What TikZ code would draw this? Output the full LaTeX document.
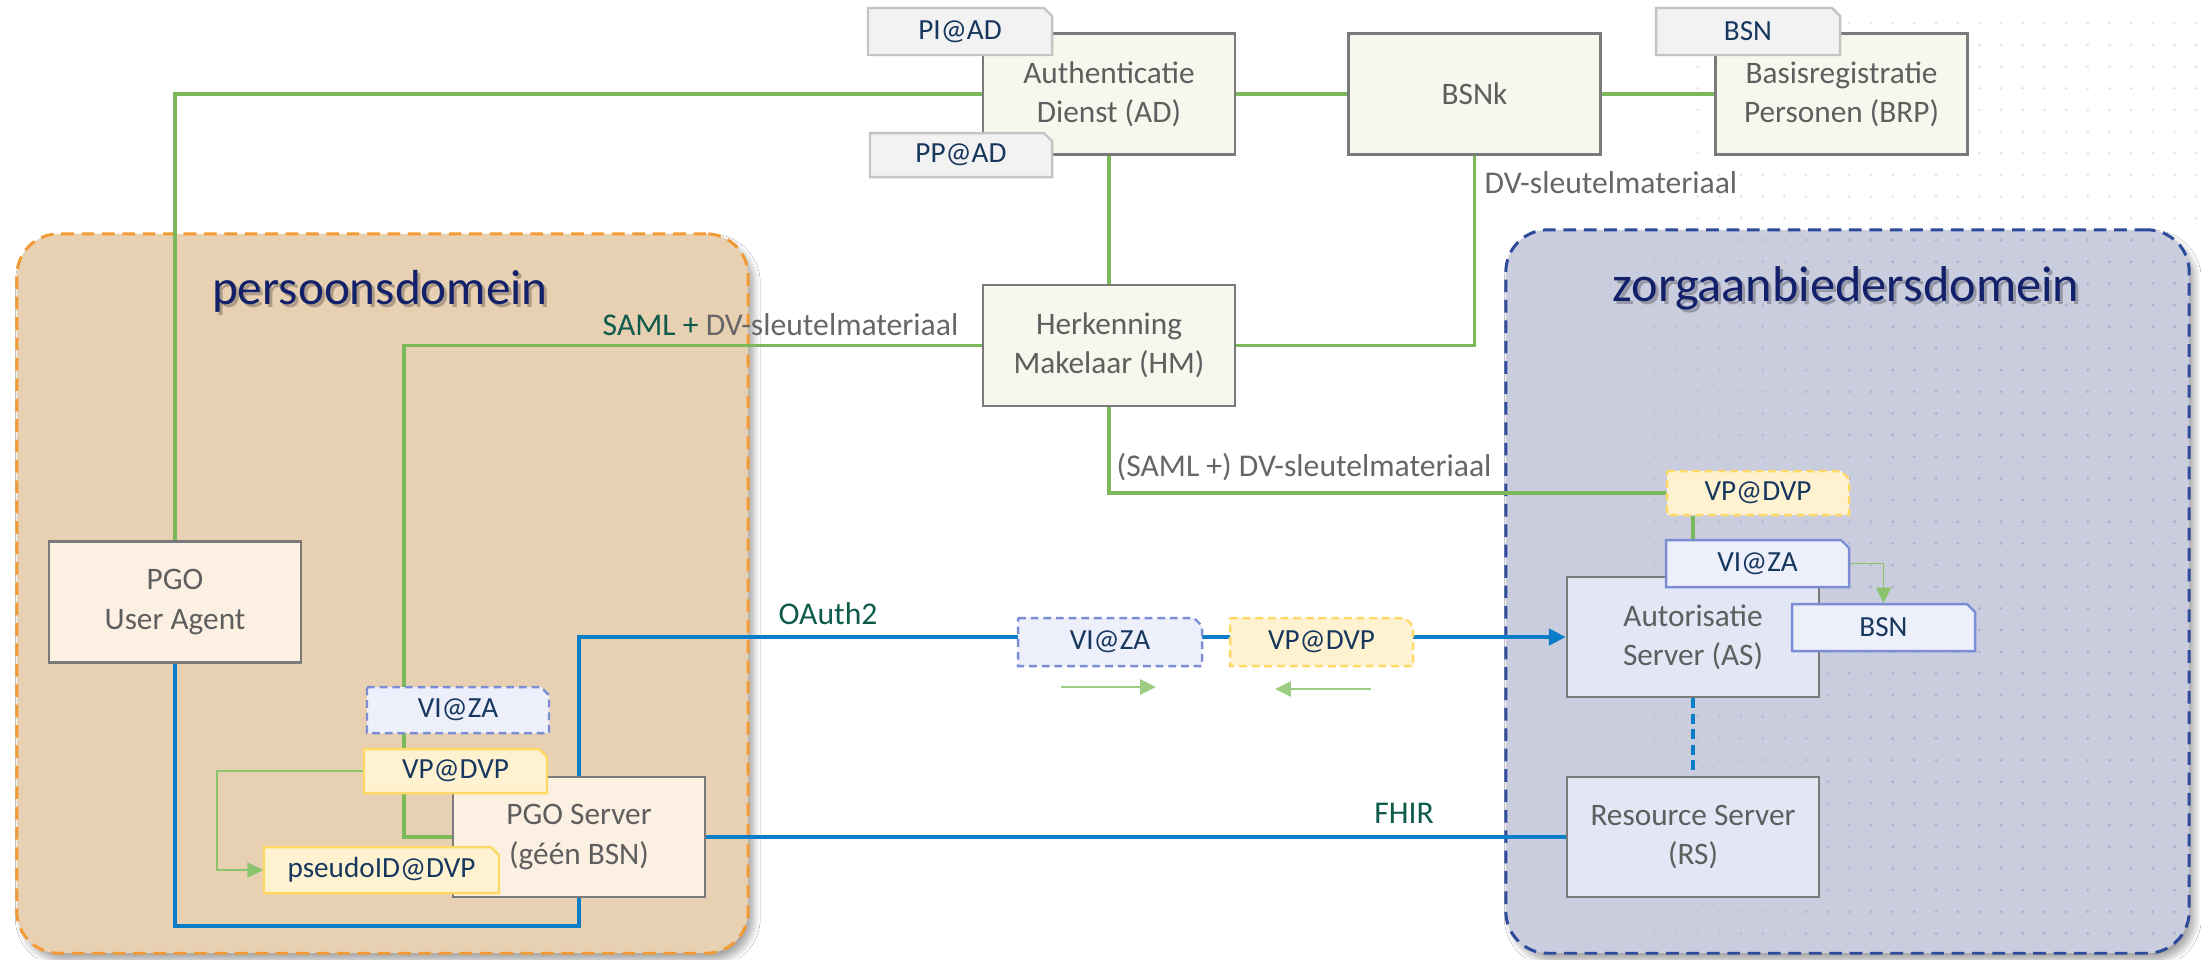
\documentclass[tikz,border=0pt]{standalone}
\usepackage{fontspec}
\setmainfont{Carlito}
\usetikzlibrary{arrows.meta,shadows.blur,calc}

\definecolor{persfill}{HTML}{E8D0B3}
\definecolor{persline}{HTML}{F29A33}
\definecolor{zorgfill}{HTML}{C9CDDD}
\definecolor{zorgline}{HTML}{2E4A9B}
\definecolor{navytitle}{HTML}{13216B}
\definecolor{creamfill}{HTML}{F7F7EE}
\definecolor{peachfill}{HTML}{FCF0E2}
\definecolor{lavfill}{HTML}{E3E6F4}
\definecolor{boxline}{HTML}{7A7A7A}
\definecolor{boxtext}{HTML}{5E5E5E}
\definecolor{tagtext}{HTML}{17375E}
\definecolor{greytagfill}{HTML}{F2F2F2}
\definecolor{greytagline}{HTML}{C4C4C4}
\definecolor{yeltagfill}{HTML}{FFF2D0}
\definecolor{yeltagline}{HTML}{FFD966}
\definecolor{bluetagfill}{HTML}{EDF0FA}
\definecolor{bluetagline}{HTML}{7B8ED5}
\definecolor{gline}{HTML}{7AB85A}
\definecolor{gthinline}{HTML}{8CC46E}
\definecolor{gsoft}{HTML}{9CCD82}
\definecolor{bline}{HTML}{0A7DC8}
\definecolor{lblgreen}{HTML}{0E5B4B}
\definecolor{lblgray}{HTML}{666666}
\definecolor{dotcol}{HTML}{A6ADC7}
\definecolor{dotfaint}{HTML}{E6E6E6}

\pgfdeclarelayer{back}
\pgfdeclarelayer{lines}
\pgfsetlayers{back,lines,main}

% snipped-corner tag: name, style, x1, y1, x2, y2, text
\newcommand\mktag[7]{%
  \path[#2] (#3,#4) -- ({#5-8},#4) -- (#5,{#4+8}) -- (#5,#6) -- (#3,#6) -- cycle;
  \node[tagtxt, minimum width={(#5-#3)*0.01cm}, minimum height={(#6-#4)*0.01cm}]
    (#1) at ({(#3+#5)/2},{(#4+#6)/2}) {#7};}

\begin{document}
\begin{tikzpicture}[x=0.01cm, y=-0.01cm,
  box/.style={draw=boxline, line width=0.65pt, text=boxtext,
    font=\fontsize{8.9}{11.1}\selectfont, align=center, inner sep=0pt,
    minimum width=2.52cm, minimum height=1.21cm},
  creambox/.style={box, fill=creamfill},
  peachbox/.style={box, fill=peachfill},
  lavbox/.style={box, fill=lavfill},
  tagtxt/.style={inner sep=0pt, text=tagtext, font=\fontsize{8.3}{9}\selectfont},
  greytag/.style={fill=greytagfill, draw=greytagline, line width=0.7pt},
  yeltag/.style={fill=yeltagfill, draw=yeltagline, line width=0.7pt},
  yeltagd/.style={yeltag, dash pattern=on 2.2pt off 1.4pt},
  bluetag/.style={fill=bluetagfill, draw=bluetagline, line width=0.7pt},
  bluetagd/.style={bluetag, dash pattern=on 2.2pt off 1.4pt},
  glink/.style={draw=gline, line width=1.1pt},
  gthin/.style={draw=gthinline, line width=0.5pt, -{Triangle[length=4.5pt,width=4.2pt]}},
  gsmall/.style={draw=gsoft, line width=0.65pt, -{Triangle[length=4.5pt,width=4.3pt]}},
  blink/.style={draw=bline, line width=1.1pt},
  lbl/.style={font=\fontsize{9}{11}\selectfont, text=lblgray, inner sep=0pt},
  domtitle/.style={font=\fontsize{14}{16}\selectfont, inner sep=0pt},
  domainbox/.style={line width=0.85pt, dash pattern=on 3.6pt off 2.2pt,
    rounded corners=0.42cm, inner sep=0pt,
    blur shadow={shadow xshift=1.5pt, shadow yshift=-2pt, shadow blur steps=8, shadow opacity=35}}
]
\useasboundingbox (0,0) rectangle (2201,959);

\begin{pgfonlayer}{back}
  \fill[white] (0,0) rectangle (2201,959);
  % faint dot field at the top right
  \foreach \i in {8,...,31}{
    \foreach \j in {1,...,10}{
      \pgfmathsetmacro\dx{1524.3+21.67*\i}
      \pgfmathsetmacro\dy{240-21.67*\j}
      \fill[dotfaint] (\dx,\dy) circle[radius=0.45pt];
    }}
  % the two domains
  \node[domainbox, draw=persline, fill=persfill, minimum width=7.31cm, minimum height=7.19cm]
    (pdom) at (382.5,593.5) {};
  \node[domainbox, draw=zorgline, fill=zorgfill, minimum width=6.83cm, minimum height=7.23cm]
    (zdom) at (1847.5,591.5) {};
  \begin{scope}
    \clip[rounded corners=0.42cm] (1507,231) rectangle (2188,952);
    \foreach \i in {0,...,31}{
      \foreach \j in {0,...,33}{
        \pgfmathsetmacro\dx{1524.3+21.67*\i}
        \pgfmathsetmacro\dy{240+21.67*\j}
        \pgfmathsetmacro\op{min(0.85,max(0.08,(\dx-1540)/450))}
        \fill[dotcol, opacity=\op] (\dx,\dy) circle[radius=0.45pt];
      }}
  \end{scope}
  % domain titles with a soft shadow
  \node[domtitle, text=black, opacity=0.25] at (383,294) {persoonsdomein};
  \node[domtitle, text=navytitle] (ptitle) at (380,291) {persoonsdomein};
  \node[domtitle, text=black, opacity=0.25, font=\fontsize{14.3}{16}\selectfont] at (1849,291) {zorgaanbiedersdomein};
  \node[domtitle, text=navytitle, font=\fontsize{14.3}{16}\selectfont] (ztitle) at (1846,288) {zorgaanbiedersdomein};
\end{pgfonlayer}

% components
\node[creambox] (ad)   at (1109,94)    {Authenticatie\\Dienst (AD)};
\node[creambox] (bsnk) at (1474.5,94)  {BSNk};
\node[creambox] (brp)  at (1841.5,94)  {Basisregistratie\\Personen (BRP)};
\node[creambox] (hm)   at (1109,345.5) {Herkenning\\Makelaar (HM)};
\node[peachbox] (ua)   at (175,602)    {PGO\\User Agent};
\node[peachbox, minimum height=1.2cm] (pgos) at (579,837) {PGO Server\\(géén BSN)};
\node[lavbox, minimum height=1.2cm] (as) at (1693,637) {Autorisatie\\Server (AS)};
\node[lavbox, minimum height=1.2cm] (rs) at (1693,837) {Resource Server\\(RS)};

% data tags
\mktag{piad}{greytag}{868}{8}{1052}{55}{PI@AD}
\mktag{ppad}{greytag}{870}{133}{1052}{177}{PP@AD}
\mktag{bsntop}{greytag}{1656}{8}{1840}{55}{BSN}
\mktag{vizal}{bluetagd}{367}{687}{549}{733}{VI@ZA}
\mktag{vpl}{yeltag}{364}{749}{547}{793}{VP@DVP}
\mktag{pseudo}{yeltag}{264}{847}{499}{893}{pseudoID@DVP}
\mktag{viztok}{bluetagd}{1018}{618}{1202}{666}{VI@ZA}
\mktag{vptok}{yeltagd}{1230}{618}{1413}{666}{VP@DVP}
\mktag{vpr}{yeltagd}{1667}{471}{1849}{515}{VP@DVP}
\mktag{vir}{bluetag}{1666}{540}{1849}{587}{VI@ZA}
\mktag{bsnr}{bluetag}{1792}{604}{1975}{651}{BSN}

% corner points of connectors
\coordinate (gcorner) at (404,837);
\coordinate (pcorner) at (217,870);
\coordinate (bluebot) at (173,926);
\coordinate (a1s) at (1061,687);
\coordinate (a1e) at (1156,687);
\coordinate (a2s) at (1371,689);
\coordinate (a2e) at (1275,689);

\begin{pgfonlayer}{lines}
  % SAML / key material chain
  \draw[glink] (ad.west) -| (ua.north);
  \draw[glink] (ad.east) -- (bsnk.west);
  \draw[glink] (bsnk.east) -- (brp.west);
  \draw[glink] (ad.south) -- (hm.north);
  \draw[glink] (hm.east) -| (bsnk.south);
  \draw[glink] (hm.west) -| (gcorner) -- (pgos.west);
  \draw[glink] (hm.south) |- (vpr.west);
  \draw[glink] (vpr.south -| as.north) -- (vir.north -| as.north);
  \draw[gthin] (vpl.west) -| (pcorner) -- (pseudo.west);
  \draw[gthin] (vir.east) -| (bsnr.north);
  % OAuth2 and FHIR
  \draw[blink] (ua.south) |- (bluebot -| pgos.south) -- (pgos.south);
  \draw[blink, -{Triangle[length=4.8pt,width=4.6pt]}] (pgos.north) |- (as.west);
  \draw[blink] (pgos.east) -- (rs.west);
  \draw[blink, line width=1.2pt, dash pattern=on 2.9pt off 1.5pt] (as.south) -- (rs.north);
  % token directions
  \draw[gsmall] (a1s) -- (a1e);
  \draw[gsmall] (a2s) -- (a2e);
\end{pgfonlayer}

% connector labels
\node[lbl, anchor=base west] (lbsnk) at (1484,193) {DV-sleutelmateriaal};
\node[lbl, anchor=base east] (lsaml) at (959,335) {\textcolor{lblgreen}{SAML +} DV-sleutelmateriaal};
\node[lbl, anchor=base west] (lsamlz) at (1116,476) {(SAML +) DV-sleutelmateriaal};
\node[lbl, text=lblgreen, anchor=base] (loauth) at (828,624) {OAuth2};
\node[lbl, text=lblgreen, anchor=base] (lfhir) at (1404,823) {FHIR};
\end{tikzpicture}
\end{document}
